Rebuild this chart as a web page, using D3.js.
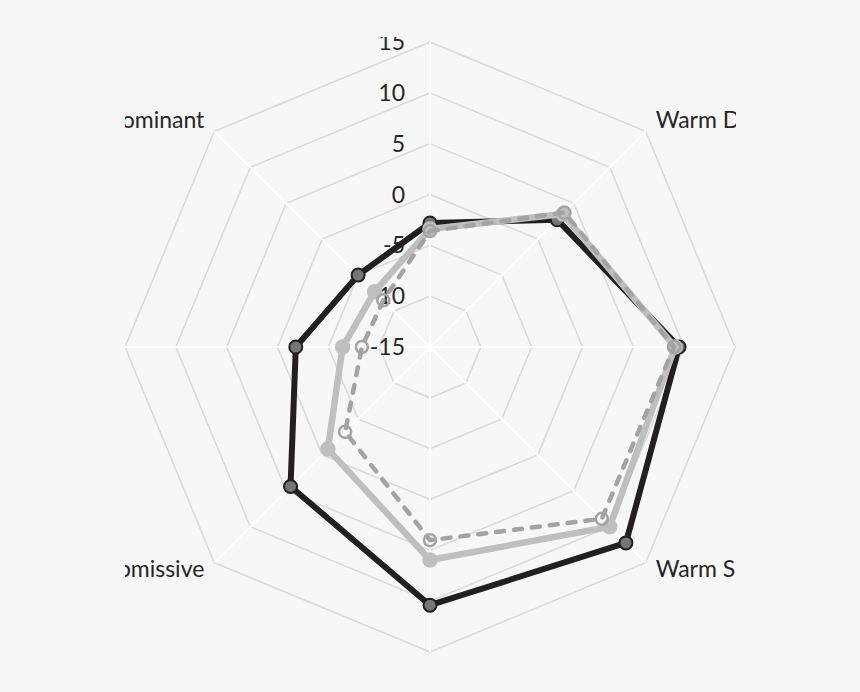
<!DOCTYPE html>
<html>
<head>
<meta charset="utf-8">
<script src="https://cdn.jsdelivr.net/npm/d3@7"></script>
<style>
  html, body { margin: 0; padding: 0; background: #f7f7f7; }
  svg { display: block; }
</style>
</head>
<body>
<div id="chart"></div>
<script>
// ── Data ─────────────────────────────────────────────────────
// axes clockwise from the top
const CATEGORIES = [
  "Dominant", "Warm Dominant", "Warm", "Warm Submissive",
  "Submissive", "Hostile Submissive", "Hostile", "Hostile Dominant"
];
const TICKS = [-15, -10, -5, 0, 5, 10, 15];

const SERIES_A = [-2.8, 2.7, 9.5, 12.25, 10.4, 4.4, -1.8, -5.0];   // black
const SERIES_B = [-3.4, 3.5, 9.1, 10.0, 5.95, -0.8, -6.4, -7.3];   // light grey
const SERIES_C = [-3.6, 3.7, 9.0, 8.9, 4.0, -3.2, -8.3, -8.5];     // dashed

const W = 860, H = 692;
const CX = 430, CY = 347, R = 305;

const svg = d3.select("#chart").append("svg")
  .attr("width", W).attr("height", H);

svg.append("rect").attr("width", W).attr("height", H).attr("fill", "#f7f7f7");

// the plot is cropped like the source picture
svg.append("defs").append("clipPath").attr("id", "crop")
  .append("rect").attr("x", 125).attr("y", 37).attr("width", 611).attr("height", 625);

const g = svg.append("g").attr("clip-path", "url(#crop)")
  .append("g").attr("transform", `translate(${CX},${CY})`);

const r = d3.scaleLinear().domain([-15, 15]).range([0, R]);
const angle = d3.scalePoint().domain(CATEGORIES).range([0, 2 * Math.PI * 7 / 8]);

const px = (c, v) => r(v) * Math.sin(angle(c));
const py = (c, v) => -r(v) * Math.cos(angle(c));

const FONT = "Lato, 'Open Sans', sans-serif";

// ── Grid rings (octagons) ────────────────────────────────────
const ring = d3.lineRadial()
  .angle(d => angle(d))
  .curve(d3.curveLinearClosed);

g.selectAll("path.ring")
  .data(TICKS.slice(1))
  .enter().append("path")
  .attr("class", "ring")
  .attr("d", t => ring.radius(r(t))(CATEGORIES))
  .attr("fill", "none")
  .attr("stroke", "#d9d9d9")
  .attr("stroke-width", 1.5);

// spokes
g.selectAll("line.spoke")
  .data(CATEGORIES)
  .enter().append("line")
  .attr("class", "spoke")
  .attr("x1", 0).attr("y1", 0)
  .attr("x2", c => px(c, 15)).attr("y2", c => py(c, 15))
  .attr("stroke", "#ffffff")
  .attr("stroke-width", 2);

// tick labels on the top axis
g.selectAll("text.tick")
  .data(TICKS)
  .enter().append("text")
  .attr("class", "tick")
  .attr("x", -25)
  .attr("y", t => -r(t))
  .attr("dy", "0.35em")
  .attr("text-anchor", "end")
  .attr("font-family", FONT)
  .attr("font-size", "23px")
  .attr("fill", "#262626")
  .text(t => t);

// category labels — only the diagonal ones fall inside the crop
const diag = CATEGORIES.filter((c, i) => i % 2 === 1);

g.selectAll("text.cat")
  .data(diag)
  .enter().append("text")
  .attr("class", "cat")
  .attr("x", c => px(c, 15) + (Math.sin(angle(c)) > 0 ? 10 : -10))
  .attr("y", c => py(c, 15) + (Math.cos(angle(c)) > 0 ? -3 : 14))
  .attr("text-anchor", c => Math.sin(angle(c)) > 0 ? "start" : "end")
  .attr("font-family", FONT)
  .attr("font-size", "23px")
  .attr("fill", "#262626")
  .text(c => c);

// ── Series ───────────────────────────────────────────────────
const shape = d3.lineRadial()
  .angle((d, i) => angle(CATEGORIES[i]))
  .radius(d => r(d))
  .curve(d3.curveLinearClosed);

function drawSeries(values, opt) {
  const s = g.append("g");
  s.append("path")
    .attr("d", shape(values))
    .attr("fill", "none")
    .attr("stroke", opt.stroke)
    .attr("stroke-width", opt.width)
    .attr("stroke-linejoin", "round")
    .attr("stroke-linecap", opt.dash ? "round" : "butt")
    .attr("stroke-dasharray", opt.dash || null);

  s.selectAll("circle")
    .data(values)
    .enter().append("circle")
    .attr("cx", (v, i) => px(CATEGORIES[i], v))
    .attr("cy", (v, i) => py(CATEGORIES[i], v))
    .attr("r", opt.r)
    .attr("fill", opt.markerFill)
    .attr("stroke", opt.markerStroke)
    .attr("stroke-width", opt.markerWidth);
}

drawSeries(SERIES_A, {
  stroke: "#231f20", width: 6, r: 6.5,
  markerFill: "#767676", markerStroke: "#231f20", markerWidth: 2
});
drawSeries(SERIES_B, {
  stroke: "#bfbfbf", width: 6.5, r: 7,
  markerFill: "#bfbfbf", markerStroke: "#bfbfbf", markerWidth: 1.5
});
drawSeries(SERIES_C, {
  stroke: "#a3a3a3", width: 4.5, r: 6, dash: "8,10",
  markerFill: "none", markerStroke: "#a3a3a3", markerWidth: 2.5
});
</script>
</body>
</html>
